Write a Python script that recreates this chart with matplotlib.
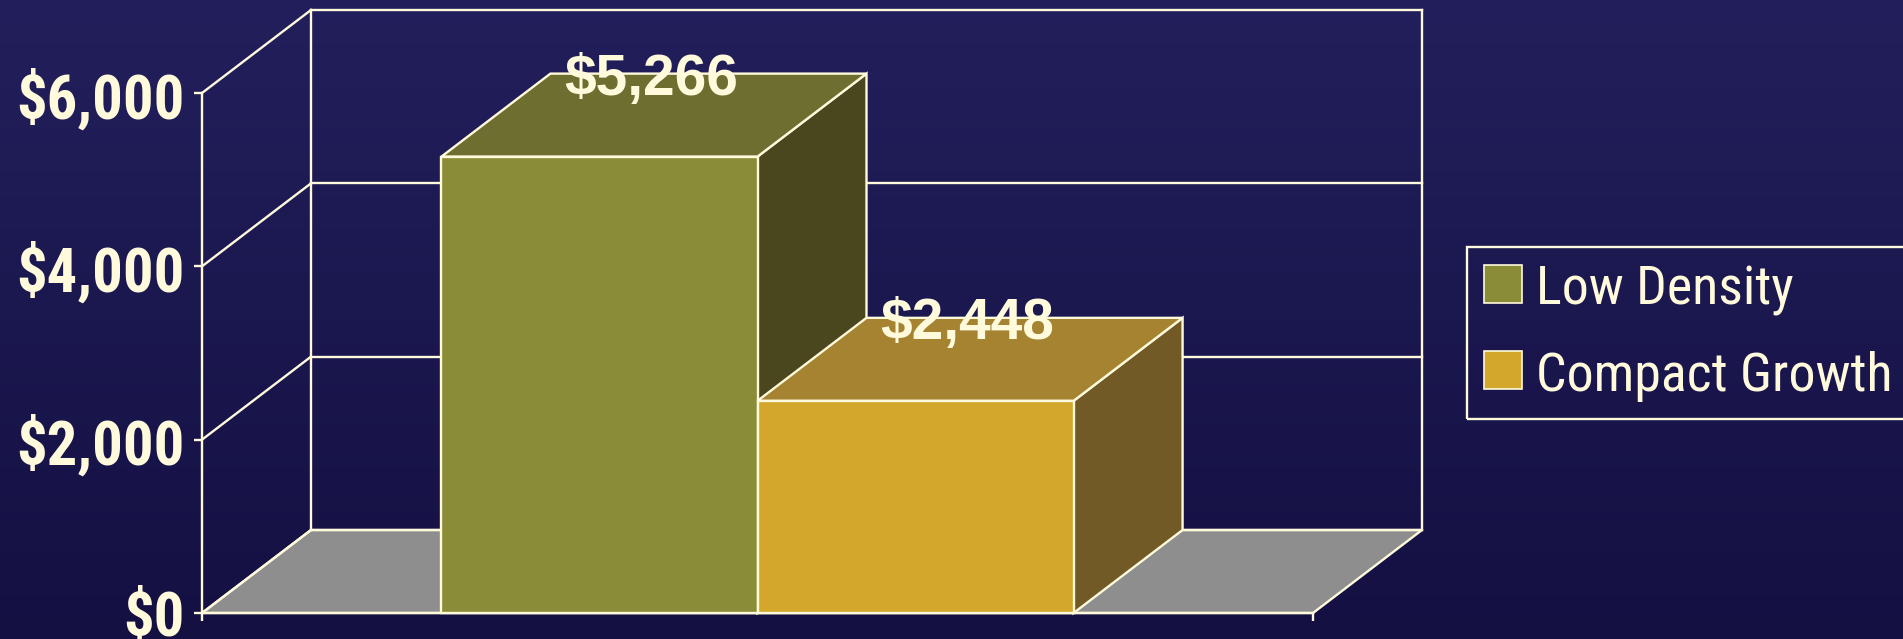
"""Oblique 3-D style bar chart: annual cost per household, low density vs compact growth."""

import matplotlib

matplotlib.use("Agg")
import matplotlib.pyplot as plt  # noqa: E402
import numpy as np  # noqa: E402
from matplotlib.colors import LinearSegmentedColormap  # noqa: E402
from matplotlib.patches import Patch, Polygon, Rectangle  # noqa: E402


SERIES = ["Low Density", "Compact Growth"]
VALUES = [5266, 2448]
VALUE_LABELS = ["$5,266", "$2,448"]
Y_TICKS = [0, 2000, 4000, 6000]
Y_TICK_LABELS = ["$0", "$2,000", "$4,000", "$6,000"]

FRONT = ["#8b8c37", "#d3a72c"]
TOP = ["#6e6e30", "#a58330"]
SIDE = ["#4a471f", "#725a26"]
FLOOR = "#8e8e8e"
CREAM = "#fffadc"
BG_TOP = "#221f5c"
BG_BOTTOM = "#141042"

W_PX, H_PX, DPI = 1903, 639, 100
DEPTH_PX = (109, 83)  # oblique offset of the back wall, in pixels
BAR_WIDTH = 0.2845
LINE_W = 1.7

NARROW = ["Liberation Sans Narrow", "Roboto Condensed", "DejaVu Sans"]
REGULAR = ["Liberation Sans", "DejaVu Sans"]


def fit_width(fig, texts, target_px):
    """Rescale a group of texts so the widest one is target_px wide."""
    renderer = fig.canvas.get_renderer()
    widest = max(t.get_window_extent(renderer).width for t in texts)
    for t in texts:
        t.set_fontsize(t.get_fontsize() * target_px / widest)


def main() -> None:
    fig = plt.figure(figsize=(W_PX / DPI, H_PX / DPI), dpi=DPI)

    # vertical gradient backdrop
    bg = fig.add_axes([0, 0, 1, 1], zorder=-10)
    cmap = LinearSegmentedColormap.from_list("bg", [BG_TOP, BG_BOTTOM])
    bg.imshow(np.linspace(0, 1, 256).reshape(-1, 1), aspect="auto",
              cmap=cmap, extent=[0, 1, 0, 1])
    bg.set_axis_off()

    ax = fig.add_axes([202 / W_PX, 26 / H_PX, 1111 / W_PX, 520 / H_PX])
    ax.set_facecolor("none")
    ax.set_xlim(-0.5, 0.5)
    ax.set_ylim(0, 6000)

    # depth offset expressed in data units
    origin = ax.transData.transform((0, 0))
    back = ax.transData.inverted().transform(origin + np.array(DEPTH_PX))
    ddx, ddy = back[0], back[1]
    x0, x1 = ax.get_xlim()
    ytop = ax.get_ylim()[1]

    # floor
    ax.add_patch(Polygon([(x0, 0), (x1, 0), (x1 + ddx, ddy), (x0 + ddx, ddy)],
                         closed=True, facecolor=FLOOR, edgecolor=CREAM,
                         linewidth=LINE_W, clip_on=False, zorder=1))

    # back wall grid and side-wall diagonals
    line_kw = dict(color=CREAM, linewidth=LINE_W, clip_on=False, zorder=1.5,
                   solid_capstyle="projecting")
    for value in Y_TICKS:
        ax.plot([x0, x0 + ddx], [value, value + ddy], **line_kw)
        ax.plot([x0 + ddx, x1 + ddx], [value + ddy, value + ddy], **line_kw)
    for x in (x0, x1):
        ax.plot([x + ddx, x + ddx], [ddy, ytop + ddy], **line_kw)

    # bars, drawn left to right so the right bar covers the left side face
    face_kw = dict(edgecolor=CREAM, linewidth=LINE_W, clip_on=False,
                   joinstyle="miter")
    n = len(VALUES)
    value_texts = []
    for i, (value, label) in enumerate(zip(VALUES, VALUE_LABELS)):
        xl = (i - n / 2) * BAR_WIDTH
        xr = xl + BAR_WIDTH
        z = 3 + i
        ax.add_patch(Polygon([(xr, 0), (xr + ddx, ddy), (xr + ddx, value + ddy),
                              (xr, value)], facecolor=SIDE[i], zorder=z, **face_kw))
        ax.add_patch(Polygon([(xl, value), (xr, value), (xr + ddx, value + ddy),
                              (xl + ddx, value + ddy)], facecolor=TOP[i],
                             zorder=z, **face_kw))
        ax.add_patch(Rectangle((xl, 0), BAR_WIDTH, value, facecolor=FRONT[i],
                               zorder=z, **face_kw))
        value_texts.append(ax.annotate(
            label, xy=((xl + xr) / 2, value), xytext=(52, 62),
            textcoords="offset pixels", ha="center", va="baseline",
            color=CREAM, fontsize=41, fontweight="bold",
            family=REGULAR, zorder=10, annotation_clip=False))

    # front axes: spines and ticks
    for side in ("top", "right"):
        ax.spines[side].set_visible(False)
    for side in ("left", "bottom"):
        ax.spines[side].set_color(CREAM)
        ax.spines[side].set_linewidth(LINE_W)
        ax.spines[side].set_zorder(2.5)
    ax.set_yticks(Y_TICKS, Y_TICK_LABELS, family=NARROW, fontweight="bold",
                  fontsize=46, fontstretch="condensed", color=CREAM)
    ax.set_xticks([x0, x1], ["", ""])
    ax.tick_params(axis="both", direction="out", length=5.8, width=LINE_W,
                   color=CREAM)
    ax.tick_params(axis="y", pad=7)

    handles = [Patch(facecolor=FRONT[i], edgecolor=CREAM, linewidth=1.2)
               for i in range(n)]
    legend = ax.legend(handles, SERIES, loc="lower left",
                       bbox_to_anchor=(1467 / W_PX, (H_PX - 419) / H_PX),
                       bbox_transform=fig.transFigure,
                       prop={"family": NARROW, "size": 41.8,
                             "stretch": "condensed"},
                       frameon=True, fancybox=False, framealpha=1,
                       facecolor="none", edgecolor=CREAM,
                       handlelength=0.64, handleheight=0.64,
                       handletextpad=0.25, labelspacing=0.6,
                       borderpad=0.3, borderaxespad=0)
    legend.get_frame().set_linewidth(LINE_W)
    for text in legend.get_texts():
        text.set_color(CREAM)

    # size label groups to the widths the layout gives them
    fit_width(fig, ax.get_yticklabels(), 168)
    fit_width(fig, value_texts, 174)
    fit_width(fig, legend.get_texts(), 357)

    fig.savefig("out.png", dpi=DPI, facecolor=BG_BOTTOM)
    plt.close(fig)


if __name__ == "__main__":
    main()
